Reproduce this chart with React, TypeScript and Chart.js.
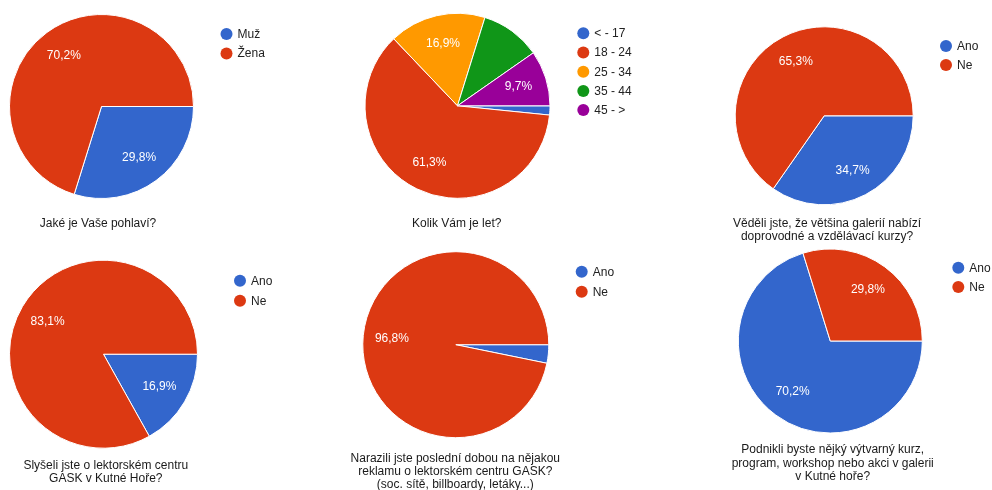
import React, { useEffect, useRef } from "react";
import { Chart, registerables } from "chart.js";

Chart.register(...registerables);

// ---- data ----
const PALETTE = ["#3366cc", "#dc3912", "#ff9900", "#109618", "#990099"];

const genderLabels = ["Muž", "Žena"];
const genderValues = [29.8, 70.2];
const genderTitle = ["Jaké je Vaše pohlaví?"];

const ageLabels = ["< - 17", "18 - 24", "25 - 34", "35 - 44", "45 - >"];
const ageValues = [1.6, 61.3, 16.9, 10.5, 9.7];
const ageLabelShown = [false, true, true, false, true];
const ageTitle = ["Kolik Vám je let?"];

const yesNoLabels = ["Ano", "Ne"];

const knewValues = [34.7, 65.3];
const knewTitle = ["Věděli jste, že většina galerií nabízí", "doprovodné a vzdělávací kurzy?"];

const heardValues = [16.9, 83.1];
const heardTitle = ["Slyšeli jste o lektorském centru", "GASK v Kutné Hoře?"];

const adValues = [3.2, 96.8];
const adLabelShown = [false, true];
const adTitle = [
  "Narazili jste poslední dobou na nějakou",
  "reklamu o lektorském centru GASK?",
  "(soc. sítě, billboardy, letáky...)",
];

const courseValues = [70.2, 29.8];
const courseTitle = [
  "Podnikli byste nějký výtvarný kurz,",
  "program, workshop nebo akci v galerii",
  "v Kutné hoře?",
];

const FONT = "'Liberation Sans', Arial, Helvetica, sans-serif";

type Spec = {
  labels: string[];
  values: number[];
  showLabel?: boolean[];
  title: string[];
  box: [number, number, number, number];
  center: [number, number];
  radius: number;
  legendAt: [number, number];
  legendStep: number;
  titleAt: [number, number];
  titleStep: number;
};

const specs: Spec[] = [
  {
    labels: genderLabels, values: genderValues, title: genderTitle,
    box: [0, 0, 330, 245], center: [101.5, 106.5], radius: 92,
    legendAt: [226.5, 34], legendStep: 19.6, titleAt: [98, 224], titleStep: 13.5,
  },
  {
    labels: ageLabels, values: ageValues, showLabel: ageLabelShown, title: ageTitle,
    box: [330, 0, 330, 245], center: [457.5, 105.8], radius: 92.5,
    legendAt: [583.3, 33.3], legendStep: 19.2, titleAt: [456.7, 224], titleStep: 13.5,
  },
  {
    labels: yesNoLabels, values: knewValues, title: knewTitle,
    box: [660, 0, 332, 245], center: [824.2, 115.8], radius: 89,
    legendAt: [946, 46], legendStep: 19, titleAt: [827, 224], titleStep: 13,
  },
  {
    labels: yesNoLabels, values: heardValues, title: heardTitle,
    box: [0, 245, 330, 245], center: [103.5, 354.2], radius: 94,
    legendAt: [240, 280.8], legendStep: 20, titleAt: [105.8, 465.5], titleStep: 13,
  },
  {
    labels: yesNoLabels, values: adValues, showLabel: adLabelShown, title: adTitle,
    box: [330, 245, 330, 245], center: [455.8, 344.7], radius: 93,
    legendAt: [581.7, 271.7], legendStep: 20, titleAt: [455.3, 458.5], titleStep: 13,
  },
  {
    labels: yesNoLabels, values: courseValues, title: courseTitle,
    box: [660, 245, 332, 245], center: [830.3, 341], radius: 92,
    legendAt: [958.3, 267.7], legendStep: 19.2, titleAt: [832.7, 450], titleStep: 13.3,
  },
];

function fmt(p: number) {
  return p.toFixed(1).replace(".", ",") + "%";
}

function PieCell({ spec }: { spec: Spec }) {
  const ref = useRef<HTMLCanvasElement | null>(null);
  useEffect(() => {
    const canvas = ref.current;
    if (!canvas) return;
    const [bx, by, bw, bh] = spec.box;
    const cx = spec.center[0] - bx;
    const cy = spec.center[1] - by;
    const r = spec.radius;
    const colors = spec.labels.map((_, i) => PALETTE[i % PALETTE.length]);

    const overlay = {
      id: "overlay",
      afterDatasetsDraw(chart: any) {
        const ctx = chart.ctx as CanvasRenderingContext2D;
        const meta = chart.getDatasetMeta(0);
        const total = spec.values.reduce((a, b) => a + b, 0);
        ctx.save();
        ctx.font = `12px ${FONT}`;
        ctx.textAlign = "center";
        ctx.textBaseline = "middle";
        ctx.fillStyle = "#ffffff";
        meta.data.forEach((arc: any, i: number) => {
          if (spec.showLabel && !spec.showLabel[i]) return;
          const p = arc.getProps(["startAngle", "endAngle", "x", "y", "outerRadius"], true);
          const mid = (p.startAngle + p.endAngle) / 2;
          const rr = p.outerRadius * 0.69;
          ctx.fillText(fmt((spec.values[i] / total) * 100), p.x + Math.cos(mid) * rr, p.y + Math.sin(mid) * rr);
        });
        // legend
        const lx = spec.legendAt[0] - bx;
        const ly = spec.legendAt[1] - by;
        ctx.textAlign = "left";
        spec.labels.forEach((lab, i) => {
          const y = ly + i * spec.legendStep;
          ctx.beginPath();
          ctx.arc(lx, y, 6, 0, Math.PI * 2);
          ctx.fillStyle = colors[i];
          ctx.fill();
          ctx.fillStyle = "#222222";
          ctx.fillText(lab, lx + 11, y + 0.5);
        });
        // title
        const tx = spec.titleAt[0] - bx;
        const ty = spec.titleAt[1] - by;
        ctx.textAlign = "center";
        ctx.fillStyle = "#1a1a1a";
        spec.title.forEach((line, i) => {
          ctx.fillText(line, tx, ty + i * spec.titleStep);
        });
        ctx.restore();
      },
    };

    const chart = new Chart(canvas, {
      type: "pie",
      data: {
        labels: spec.labels,
        datasets: [
          {
            data: spec.values,
            backgroundColor: colors,
            borderColor: "#ffffff",
            borderWidth: 1,
          },
        ],
      },
      options: {
        responsive: false,
        animation: false,
        events: [],
        rotation: 90,
        radius: r,
        layout: {
          padding: { left: cx - r, top: cy - r, right: bw - (cx + r), bottom: bh - (cy + r) },
        },
        plugins: {
          legend: { display: false },
          title: { display: false },
          tooltip: { enabled: false },
        },
      } as any,
      plugins: [overlay],
    });
    return () => chart.destroy();
  }, [spec]);

  const [bx, by, bw, bh] = spec.box;
  return (
    <canvas
      ref={ref}
      width={bw}
      height={bh}
      style={{ position: "absolute", left: bx, top: by, width: bw, height: bh, display: "block" }}
    />
  );
}

export default function App() {
  return (
    <div
      style={{
        position: "fixed",
        left: 0,
        top: 0,
        width: 992,
        height: 490,
        background: "#ffffff",
        overflow: "hidden",
      }}
    >
      {specs.map((s, i) => (
        <PieCell key={i} spec={s} />
      ))}
    </div>
  );
}
